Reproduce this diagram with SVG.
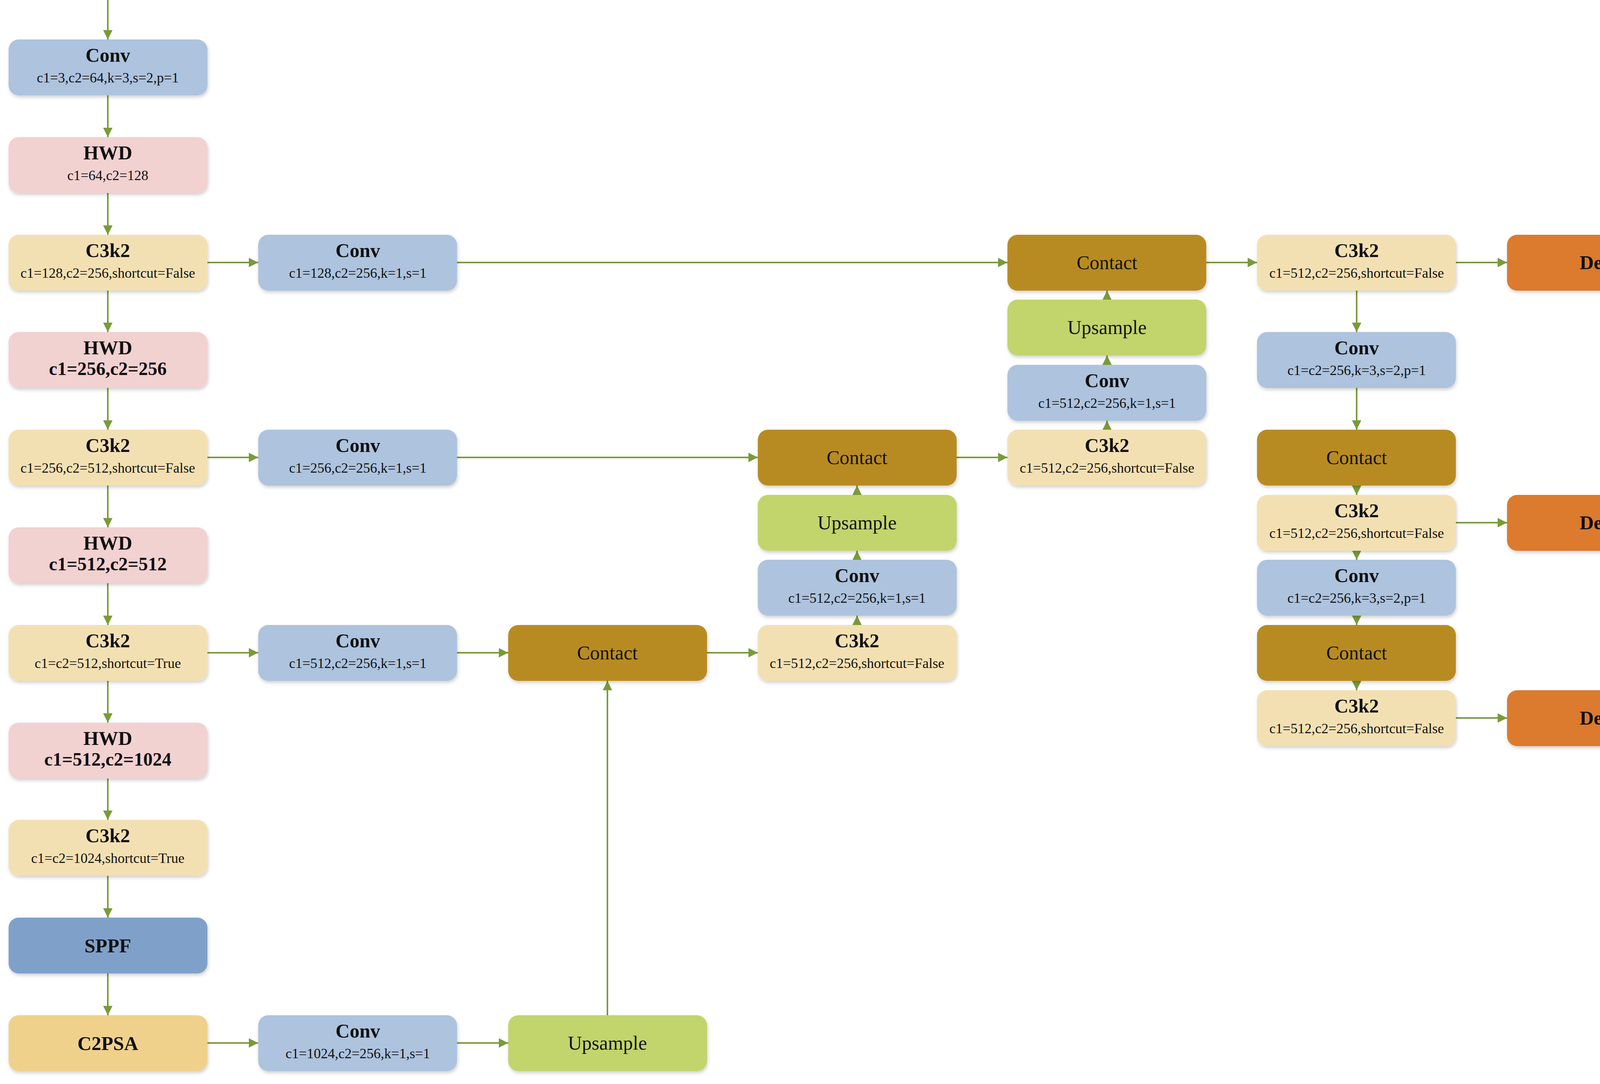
<svg xmlns="http://www.w3.org/2000/svg" width="4386" height="2775" viewBox="0 0 4386 2775">
<defs>
<marker id="ah" viewBox="0 0 10 10" refX="10" refY="5" markerWidth="24" markerHeight="24" markerUnits="userSpaceOnUse" orient="auto"><path d="M0,0 L10,5 L0,10 z" fill="#7a9a3a"/></marker>
<filter id="sh" x="-5%" y="-10%" width="110%" height="125%"><feDropShadow dx="2" dy="5" stdDeviation="4" flood-color="#000" flood-opacity="0.18"/></filter>
</defs>
<style>
rect{filter:url(#sh)}
.conv{fill:#adc3de}.hwd{fill:#f2d1d1}.c3{fill:#f3e0b2}.sppf{fill:#7fa1c9}.c2psa{fill:#efd18c}.cat{fill:#b88b20}.up{fill:#c2d46c}.det{fill:#dc7a2d}
text{font-family:"Liberation Serif","Times New Roman",serif;text-anchor:middle;fill:#111}
.t{font-size:50px;font-weight:bold}
.s{font-size:36px}
.sb{font-size:48px;font-weight:bold}
.n{font-size:50px}
#connectors line{stroke:#7a9a3a;stroke-width:4;marker-end:url(#ah)}
</style>
<rect width="4386" height="2775" fill="#fff" style="filter:none"/>
<g id="connectors">
<line x1="276" y1="0" x2="276" y2="101"/>
<line x1="276" y1="244" x2="276" y2="351"/>
<line x1="276" y1="494" x2="276" y2="601"/>
<line x1="276" y1="744" x2="276" y2="850"/>
<line x1="276" y1="993" x2="276" y2="1100"/>
<line x1="276" y1="1243" x2="276" y2="1350"/>
<line x1="276" y1="1493" x2="276" y2="1600"/>
<line x1="276" y1="1743" x2="276" y2="1850"/>
<line x1="276" y1="1993" x2="276" y2="2099"/>
<line x1="276" y1="2242" x2="276" y2="2349"/>
<line x1="276" y1="2492" x2="276" y2="2599"/>
<line x1="531" y1="672" x2="661" y2="672"/>
<line x1="1170" y1="672" x2="2579" y2="672"/>
<line x1="531" y1="1171" x2="661" y2="1171"/>
<line x1="1170" y1="1171" x2="1940" y2="1171"/>
<line x1="2449" y1="1171" x2="2579" y2="1171"/>
<line x1="531" y1="1671" x2="661" y2="1671"/>
<line x1="1170" y1="1671" x2="1301" y2="1671"/>
<line x1="1810" y1="1671" x2="1940" y2="1671"/>
<line x1="531" y1="2670" x2="661" y2="2670"/>
<line x1="1170" y1="2670" x2="1301" y2="2670"/>
<line x1="1555" y1="2599" x2="1555" y2="1743"/>
<line x1="2194" y1="1600" x2="2194" y2="1576"/>
<line x1="2194" y1="1433" x2="2194" y2="1410"/>
<line x1="2194" y1="1267" x2="2194" y2="1243"/>
<line x1="2834" y1="1100" x2="2834" y2="1077"/>
<line x1="2834" y1="934" x2="2834" y2="910"/>
<line x1="2834" y1="767" x2="2834" y2="744"/>
<line x1="3088" y1="672" x2="3218" y2="672"/>
<line x1="3473" y1="744" x2="3473" y2="850"/>
<line x1="3473" y1="993" x2="3473" y2="1100"/>
<line x1="3473" y1="1243" x2="3473" y2="1267"/>
<line x1="3473" y1="1410" x2="3473" y2="1433"/>
<line x1="3473" y1="1576" x2="3473" y2="1600"/>
<line x1="3473" y1="1743" x2="3473" y2="1767"/>
<line x1="3727" y1="672" x2="3858" y2="672"/>
<line x1="3727" y1="1338" x2="3858" y2="1338"/>
<line x1="3727" y1="1838" x2="3858" y2="1838"/>
</g>
<g id="n1"><rect class="conv" x="22" y="101" width="509" height="143" rx="26"/><text class="t" x="276" y="158">Conv</text><text class="s" x="276" y="211">c1=3,c2=64,k=3,s=2,p=1</text></g>
<g id="n2"><rect class="hwd" x="22" y="351" width="509" height="143" rx="26"/><text class="t" x="276" y="408">HWD</text><text class="s" x="276" y="461">c1=64,c2=128</text></g>
<g id="n3"><rect class="c3" x="22" y="601" width="509" height="143" rx="26"/><text class="t" x="276" y="658">C3k2</text><text class="s" x="276" y="711">c1=128,c2=256,shortcut=False</text></g>
<g id="n4"><rect class="hwd" x="22" y="850" width="509" height="143" rx="26"/><text class="t" x="276" y="907">HWD</text><text class="sb" x="276" y="960">c1=256,c2=256</text></g>
<g id="n5"><rect class="c3" x="22" y="1100" width="509" height="143" rx="26"/><text class="t" x="276" y="1157">C3k2</text><text class="s" x="276" y="1210">c1=256,c2=512,shortcut=False</text></g>
<g id="n6"><rect class="hwd" x="22" y="1350" width="509" height="143" rx="26"/><text class="t" x="276" y="1407">HWD</text><text class="sb" x="276" y="1460">c1=512,c2=512</text></g>
<g id="n7"><rect class="c3" x="22" y="1600" width="509" height="143" rx="26"/><text class="t" x="276" y="1657">C3k2</text><text class="s" x="276" y="1710">c1=c2=512,shortcut=True</text></g>
<g id="n8"><rect class="hwd" x="22" y="1850" width="509" height="143" rx="26"/><text class="t" x="276" y="1907">HWD</text><text class="sb" x="276" y="1960">c1=512,c2=1024</text></g>
<g id="n9"><rect class="c3" x="22" y="2099" width="509" height="143" rx="26"/><text class="t" x="276" y="2156">C3k2</text><text class="s" x="276" y="2209">c1=c2=1024,shortcut=True</text></g>
<g id="n10"><rect class="sppf" x="22" y="2349" width="509" height="143" rx="26"/><text class="t" x="276" y="2438">SPPF</text></g>
<g id="n11"><rect class="c2psa" x="22" y="2599" width="509" height="143" rx="26"/><text class="t" x="276" y="2688">C2PSA</text></g>
<g id="n12"><rect class="conv" x="661" y="601" width="509" height="143" rx="26"/><text class="t" x="916" y="658">Conv</text><text class="s" x="916" y="711">c1=128,c2=256,k=1,s=1</text></g>
<g id="n13"><rect class="conv" x="661" y="1100" width="509" height="143" rx="26"/><text class="t" x="916" y="1157">Conv</text><text class="s" x="916" y="1210">c1=256,c2=256,k=1,s=1</text></g>
<g id="n14"><rect class="conv" x="661" y="1600" width="509" height="143" rx="26"/><text class="t" x="916" y="1657">Conv</text><text class="s" x="916" y="1710">c1=512,c2=256,k=1,s=1</text></g>
<g id="n15"><rect class="conv" x="661" y="2599" width="509" height="143" rx="26"/><text class="t" x="916" y="2656">Conv</text><text class="s" x="916" y="2709">c1=1024,c2=256,k=1,s=1</text></g>
<g id="n16"><rect class="cat" x="1301" y="1600" width="509" height="143" rx="26"/><text class="n" x="1555" y="1688">Contact</text></g>
<g id="n17"><rect class="up" x="1301" y="2599" width="509" height="143" rx="26"/><text class="n" x="1555" y="2687">Upsample</text></g>
<g id="n18"><rect class="cat" x="1940" y="1100" width="509" height="143" rx="26"/><text class="n" x="2194" y="1188">Contact</text></g>
<g id="n19"><rect class="up" x="1940" y="1267" width="509" height="143" rx="26"/><text class="n" x="2194" y="1355">Upsample</text></g>
<g id="n20"><rect class="conv" x="1940" y="1433" width="509" height="143" rx="26"/><text class="t" x="2194" y="1490">Conv</text><text class="s" x="2194" y="1543">c1=512,c2=256,k=1,s=1</text></g>
<g id="n21"><rect class="c3" x="1940" y="1600" width="509" height="143" rx="26"/><text class="t" x="2194" y="1657">C3k2</text><text class="s" x="2194" y="1710">c1=512,c2=256,shortcut=False</text></g>
<g id="n22"><rect class="cat" x="2579" y="601" width="509" height="143" rx="26"/><text class="n" x="2834" y="689">Contact</text></g>
<g id="n23"><rect class="up" x="2579" y="767" width="509" height="143" rx="26"/><text class="n" x="2834" y="855">Upsample</text></g>
<g id="n24"><rect class="conv" x="2579" y="934" width="509" height="143" rx="26"/><text class="t" x="2834" y="991">Conv</text><text class="s" x="2834" y="1044">c1=512,c2=256,k=1,s=1</text></g>
<g id="n25"><rect class="c3" x="2579" y="1100" width="509" height="143" rx="26"/><text class="t" x="2834" y="1157">C3k2</text><text class="s" x="2834" y="1210">c1=512,c2=256,shortcut=False</text></g>
<g id="n26"><rect class="c3" x="3218" y="601" width="509" height="143" rx="26"/><text class="t" x="3473" y="658">C3k2</text><text class="s" x="3473" y="711">c1=512,c2=256,shortcut=False</text></g>
<g id="n27"><rect class="conv" x="3218" y="850" width="509" height="143" rx="26"/><text class="t" x="3473" y="907">Conv</text><text class="s" x="3473" y="960">c1=c2=256,k=3,s=2,p=1</text></g>
<g id="n28"><rect class="cat" x="3218" y="1100" width="509" height="143" rx="26"/><text class="n" x="3473" y="1188">Contact</text></g>
<g id="n29"><rect class="c3" x="3218" y="1267" width="509" height="143" rx="26"/><text class="t" x="3473" y="1324">C3k2</text><text class="s" x="3473" y="1377">c1=512,c2=256,shortcut=False</text></g>
<g id="n30"><rect class="conv" x="3218" y="1433" width="509" height="143" rx="26"/><text class="t" x="3473" y="1490">Conv</text><text class="s" x="3473" y="1543">c1=c2=256,k=3,s=2,p=1</text></g>
<g id="n31"><rect class="cat" x="3218" y="1600" width="509" height="143" rx="26"/><text class="n" x="3473" y="1688">Contact</text></g>
<g id="n32"><rect class="c3" x="3218" y="1767" width="509" height="143" rx="26"/><text class="t" x="3473" y="1824">C3k2</text><text class="s" x="3473" y="1877">c1=512,c2=256,shortcut=False</text></g>
<g id="n33"><rect class="det" x="3858" y="601" width="509" height="143" rx="26"/><text class="t" x="4112" y="689">Detect</text></g>
<g id="n34"><rect class="det" x="3858" y="1267" width="509" height="143" rx="26"/><text class="t" x="4112" y="1355">Detect</text></g>
<g id="n35"><rect class="det" x="3858" y="1767" width="509" height="143" rx="26"/><text class="t" x="4112" y="1855">Detect</text></g>
</svg>
